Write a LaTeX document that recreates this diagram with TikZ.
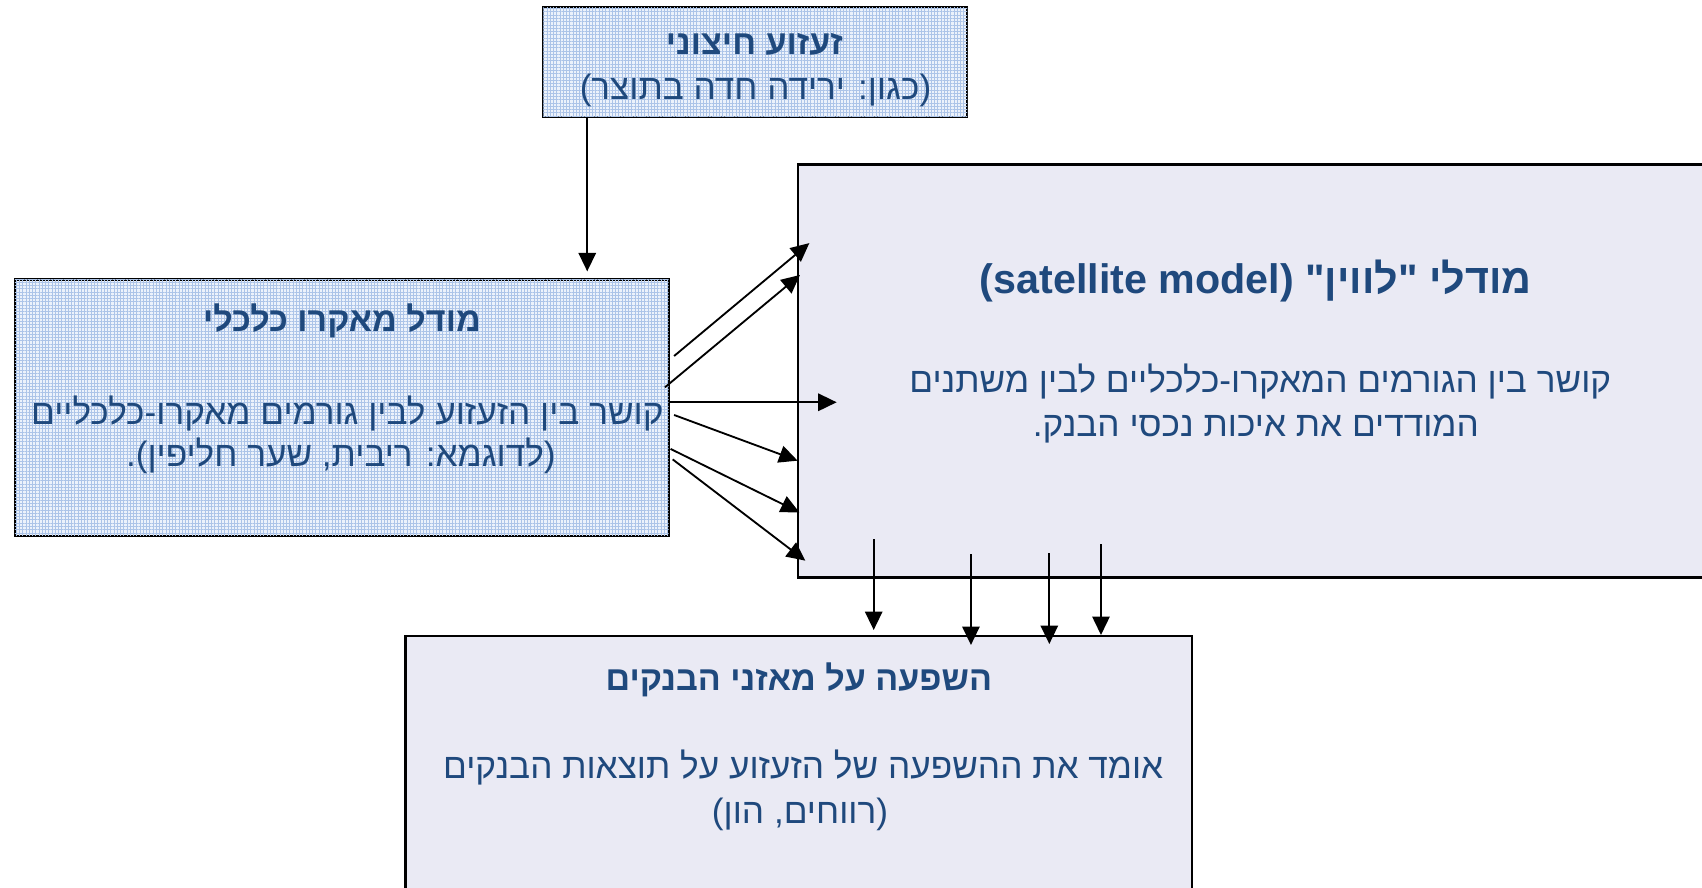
\documentclass[tikz,border=0pt]{standalone}
\usepackage{fontspec}
\setmainfont{Liberation Sans}
\newfontfamily\heb[Script=Hebrew]{Liberation Sans}
\TeXXeTstate=1
\usetikzlibrary{arrows.meta,patterns.meta,fit}
\definecolor{txtblue}{RGB}{31,73,125}
\definecolor{lav}{RGB}{234,234,244}
\definecolor{meshbg}{RGB}{236,242,251}
\definecolor{meshline}{RGB}{172,196,232}
\tikzset{
  meshbox/.style={draw=black, line width=1pt, inner sep=0pt, fill=meshbg,
    postaction={pattern={Lines[distance=1.5pt,angle=0,line width=0.4pt]}, pattern color=meshline},
    postaction={pattern={Lines[distance=1.5pt,angle=90,line width=0.4pt]}, pattern color=meshline}},
  lavbox/.style={draw=black, line width=1pt, inner sep=0pt, fill=lav},
  txt/.style={text=txtblue, inner sep=0pt, anchor=base, font=\heb\fontsize{16.2}{19}\selectfont},
  ttl/.style={txt, font=\heb\bfseries\fontsize{15.7}{19}\selectfont},
  bigttl/.style={txt, font=\heb\bfseries\fontsize{19}{22}\selectfont},
  arr/.style={line width=0.85pt, -{Triangle[length=8.5pt,width=8pt]}}
}
\begin{document}
\begin{tikzpicture}[x=0.5pt,y=-0.5pt]
\useasboundingbox (0,0) rectangle (1568,818);
\clip (0,0) rectangle (1568,818);
\fill[white] (0,0) rectangle (1568,818);
% box corners
\coordinate (s1) at (500.5,6.5); \coordinate (s2) at (891,107.5);
\coordinate (m1) at (13.5,257.5); \coordinate (m2) at (616,493.5);
\coordinate (r1) at (735,151.5); \coordinate (r2) at (1575,532);
\coordinate (b1) at (373.5,586); \coordinate (b2) at (1098.5,825);
\node[lavbox, fit=(r1)(r2)] (sat) {};
\node[lavbox, fit=(b1)(b2)] (bank) {};
\node[meshbox, fit=(s1)(s2)] (shock) {};
\node[meshbox, fit=(m1)(m2)] (macro) {};
% texts
\node[ttl] (shockT) at (695,50) {\beginR זעזוע חיצוני\endR};
\node[txt] (shockB) at (696,92) {\beginR (כגון: ירידה חדה בתוצר)\endR};
\node[ttl] (macroT) at (315,305) {\beginR מודל מאקרו כלכלי\endR};
\node[txt] (macroB1) at (320,391) {\beginR קושר בין הזעזוע לבין גורמים מאקרו-כלכליים\endR};
\node[txt] (macroB2) at (314,430) {\beginR (לדוגמא: ריבית, שער חליפין).\endR};
\node[bigttl] (satT) at (1157,270) {\beginR מודלי "לווין" (\beginL satellite model\endL)\endR};
\node[txt] (satB1) at (1161,362) {\beginR קושר בין הגורמים המאקרו-כלכליים לבין משתנים\endR};
\node[txt] (satB2) at (1157,402) {\beginR המודדים את איכות נכסי הבנק.\endR};
\node[ttl] (bankT) at (736,636) {\beginR השפעה על מאזני הבנקים\endR};
\node[txt] (bankB1) at (740,717) {\beginR אומד את ההשפעה של הזעזוע על תוצאות הבנקים\endR};
\node[txt] (bankB2) at (737,759) {\beginR (רווחים, הון)\endR};
% arrow endpoints
\coordinate (p0) at (541,107.5); \coordinate (q0) at (541,250);
\coordinate (pa) at (621,328); \coordinate (qa) at (745.6,224);
\coordinate (pb) at (612.6,356.8); \coordinate (qb) at (737,253.3);
\coordinate (pc) at (617,370.6); \coordinate (qc) at (770.8,370.6);
\coordinate (pd) at (621,382.3); \coordinate (qd) at (734.8,424.4);
\coordinate (pe) at (617.8,413.6); \coordinate (qe) at (736.4,472);
\coordinate (pf) at (619.7,423.2); \coordinate (qf) at (741.9,516.5);
\coordinate (pg) at (804.9,496.8); \coordinate (qg) at (804.9,580.4);
\coordinate (ph) at (894.5,510.7); \coordinate (qh) at (894.5,594.2);
\coordinate (pi) at (966.7,509.8); \coordinate (qi) at (966.7,593.3);
\coordinate (pj) at (1014.3,501.4); \coordinate (qj) at (1014.3,585);
\foreach \s/\t in {p0/q0,pa/qa,pb/qb,pc/qc,pd/qd,pe/qe,pf/qf,pg/qg,ph/qh,pi/qi,pj/qj}
  \draw[arr] (\s) -- (\t);
\end{tikzpicture}
\end{document}
